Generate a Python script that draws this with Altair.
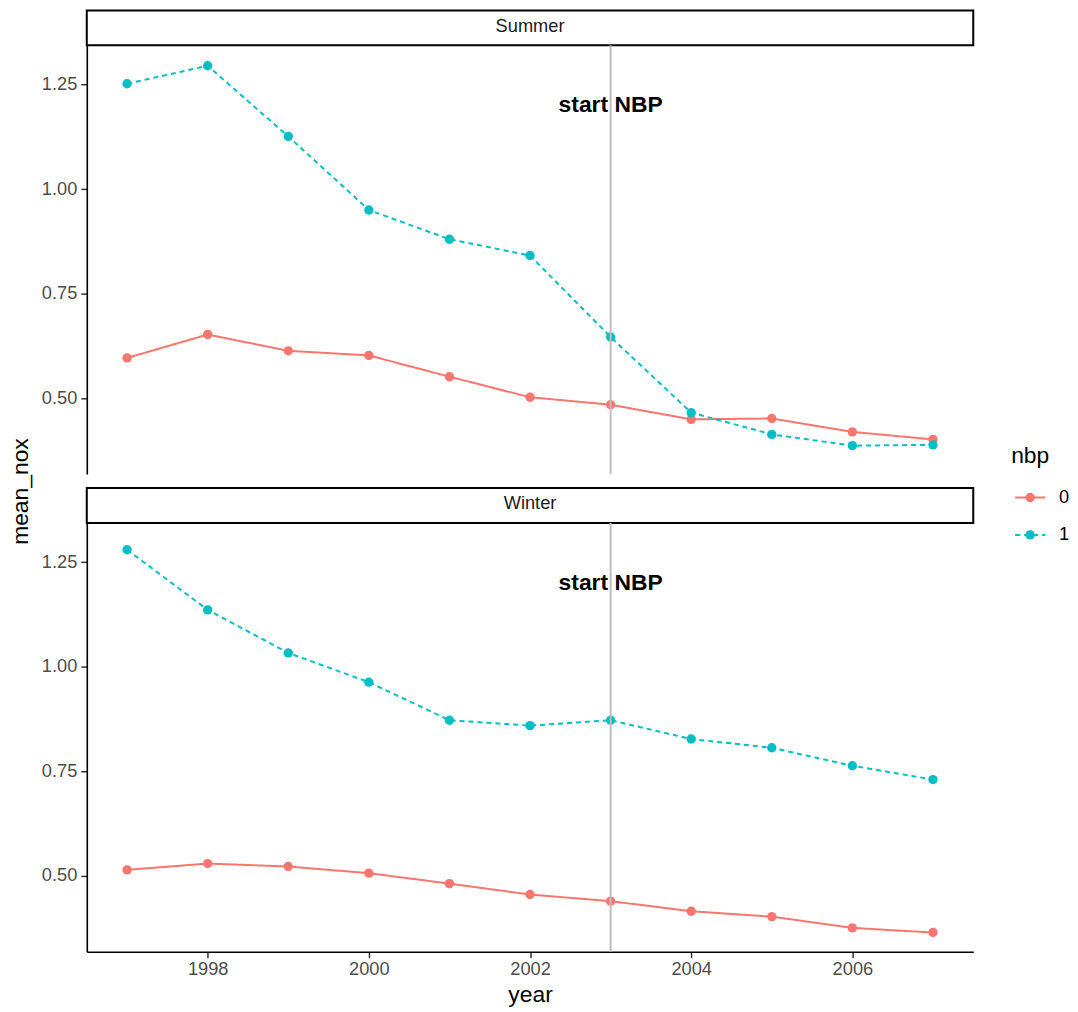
import altair as alt
import pandas as pd

# ---------------- data ----------------
years = list(range(1997, 2008))
summer_nbp0 = [0.596, 0.652, 0.613, 0.602, 0.551, 0.502, 0.484, 0.449, 0.451, 0.419, 0.401]
summer_nbp1 = [1.252, 1.295, 1.126, 0.950, 0.880, 0.841, 0.646, 0.465, 0.413, 0.386, 0.388]
winter_nbp0 = [0.514, 0.529, 0.522, 0.506, 0.481, 0.455, 0.439, 0.415, 0.402, 0.375, 0.364]
winter_nbp1 = [1.280, 1.136, 1.033, 0.963, 0.872, 0.859, 0.872, 0.827, 0.806, 0.763, 0.730]
seasons = ["Summer", "Winter"]
nbp_levels = ["0", "1"]
nbp_colors = ["#F8766D", "#00BFC4"]
nbp_start_year = [2003]
annotation_label = ["start NBP"]
annotation_y = [1.2]
y_ticks = [0.5, 0.75, 1.0, 1.25]
x_ticks = [1998, 2000, 2002, 2004, 2006]

series = {
    "Summer": {"0": summer_nbp0, "1": summer_nbp1},
    "Winter": {"0": winter_nbp0, "1": winter_nbp1},
}
rows = []
for season in seasons:
    for lvl in nbp_levels:
        for yr, v in zip(years, series[season][lvl]):
            rows.append({"season": season, "year": yr, "nbp": lvl, "mean_nox": v})
df = pd.DataFrame(rows)
ann_df = pd.DataFrame({"year": nbp_start_year, "label": annotation_label, "y": annotation_y})

# ---------------- layout / style ----------------
FONT = "Liberation Sans"
PW, PH = 889, 430
STRIP = 35
GAP = 14
SMALL = 18.3
BIG = 22.9
PT = 88

x_scale = alt.Scale(domain=[1996.5, 2007.5], nice=False, zero=False)
y_scale = alt.Scale(domain=[0.318, 1.344], nice=False, zero=False)
color_scale = alt.Scale(domain=nbp_levels, range=nbp_colors)
dash_scale = alt.Scale(domain=nbp_levels, range=[[1, 0], [5, 4]])


def panel(season, show_x, show_ytitle):
    d = df[df.season == season]
    if show_x:
        xaxis = alt.Axis(values=x_ticks, format="d", title="year", titlePadding=6)
    else:
        xaxis = None
    if show_ytitle:
        yaxis = alt.Axis(values=y_ticks, format=".2f", title="mean_nox",
                         titleAngle=270, titleX=-77, titleY=447,
                         titleAlign="center", titleBaseline="top")
    else:
        yaxis = alt.Axis(values=y_ticks, format=".2f", title=None)

    X = alt.X("year:Q", scale=x_scale, axis=xaxis)
    Y = alt.Y("mean_nox:Q", scale=y_scale, axis=yaxis)
    C = alt.Color("nbp:N", scale=color_scale, legend=None)

    lines = alt.Chart(d).mark_line(strokeWidth=2).encode(
        x=X, y=Y, color=C,
        strokeDash=alt.StrokeDash("nbp:N", scale=dash_scale, legend=None),
        detail="nbp:N",
    )
    points = alt.Chart(d).mark_circle(size=PT, opacity=1).encode(x=X, y=Y, color=C)
    rule = alt.Chart(ann_df).mark_rule(color="#BEBEBE", strokeWidth=2).encode(
        x=alt.X("year:Q", scale=x_scale, axis=xaxis)
    )
    text = alt.Chart(ann_df).mark_text(
        fontSize=BIG, fontWeight="bold", color="black", align="center", baseline="middle"
    ).encode(
        x=alt.X("year:Q", scale=x_scale, axis=xaxis),
        y=alt.Y("y:Q", scale=y_scale, axis=yaxis),
        text="label:N",
    )

    strip_df = pd.DataFrame({"season": [season]})
    strip_rect = alt.Chart(strip_df).mark_rect(
        fill="white", stroke="black", strokeWidth=2
    ).encode(x=alt.value(0), x2=alt.value(PW), y=alt.value(-STRIP), y2=alt.value(0))
    strip_text = alt.Chart(strip_df).mark_text(
        fontSize=SMALL, color="#1A1A1A", align="center", baseline="middle"
    ).encode(x=alt.value(PW / 2), y=alt.value(-STRIP / 2 - 1), text="season:N")

    return alt.layer(strip_rect, strip_text, lines, points, rule, text).properties(
        width=PW, height=PH
    )


summer = panel("Summer", show_x=False, show_ytitle=True)
winter = panel("Winter", show_x=True, show_ytitle=False)
panels = alt.vconcat(summer, winter, spacing=STRIP + GAP, bounds="flush")

# ---------------- legend built from the same scales ----------------
leg_df = pd.DataFrame({"nbp": nbp_levels, "row": [0, 1]})
LY = alt.Y("row:Q", scale=alt.Scale(domain=[0, 1], range=[453.5, 491]), axis=None)
LC = alt.Color("nbp:N", scale=color_scale, legend=None)
leg_rule = alt.Chart(leg_df).mark_rule(strokeWidth=2).encode(
    x=alt.value(13), x2=alt.value(43), y=LY, color=LC,
    strokeDash=alt.StrokeDash("nbp:N", scale=dash_scale, legend=None),
)
leg_pts = alt.Chart(leg_df).mark_circle(size=PT, opacity=1).encode(
    x=alt.value(28), y=LY, color=LC
)
leg_lbl = alt.Chart(leg_df).mark_text(
    align="left", baseline="middle", fontSize=SMALL, color="black"
).encode(x=alt.value(57), y=LY, text="nbp:N")
leg_title = alt.Chart(pd.DataFrame({"t": ["nbp"]})).mark_text(
    align="left", baseline="alphabetic", fontSize=BIG, color="black"
).encode(x=alt.value(9), y=alt.value(419), text="t:N")
legend = alt.layer(leg_rule, leg_pts, leg_lbl, leg_title).properties(
    width=62, height=PH * 2 + GAP
)

chart = alt.hconcat(panels, legend, spacing=28).properties(
    padding={"left": 2, "top": 0, "right": 0, "bottom": 0}
).configure(font=FONT).configure_view(
    stroke="transparent", strokeWidth=0
).configure_axis(
    grid=False,
    domainColor="black",
    domainWidth=1.6,
    tickColor="#333333",
    tickWidth=1.5,
    tickSize=6,
    labelColor="#4D4D4D",
    labelFontSize=SMALL,
    labelFont=FONT,
    titleFont=FONT,
    titleFontSize=BIG,
    titleFontWeight="normal",
    titleColor="black",
).configure_axisX(labelPadding=3).configure_axisY(labelPadding=4)

chart.save("out.html", embed_options={"renderer": "svg", "actions": False})
